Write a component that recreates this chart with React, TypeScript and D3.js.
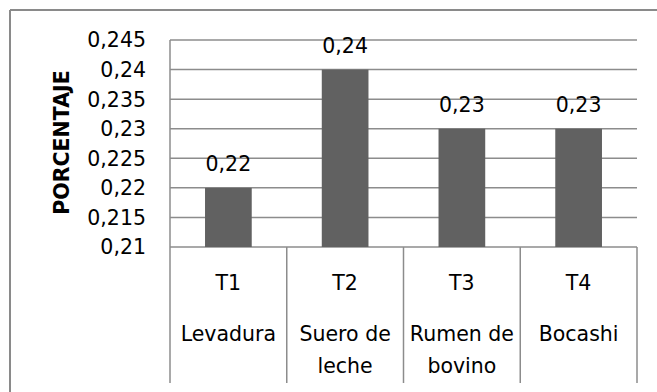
import React from "react";
import * as d3 from "d3";

const codes = ["T1", "T2", "T3", "T4"];
const nameLines = [["Levadura"], ["Suero de", "leche"], ["Rumen de", "bovino"], ["Bocashi"]];
const values = [0.22, 0.24, 0.23, 0.23];
const yTicks = [0.21, 0.215, 0.22, 0.225, 0.23, 0.235, 0.24, 0.245];
const yTitle = "PORCENTAJE";

const W = 657;
const H = 392;
const FONT = "'DejaVu Sans', sans-serif";
const FS = 20.5;

export default function App() {
  const left = 170, right = 637, top = 40, bottom = 247;
  const x = d3.scaleBand<string>().domain(codes).range([left, right]).padding(0);
  const y = d3.scaleLinear().domain([0.21, 0.245]).range([bottom, top]);
  const bw = x.bandwidth();
  const barW = bw * 0.4;
  const fmt = (v: number) => String(+v.toFixed(3)).replace(".", ",");
  const sepBottom = 383;
  const gridColor = "#8c8c8c";

  return (
    <svg width={W} height={H} style={{ position: "absolute", left: 0, top: 0, background: "#fff" }}>
      <rect x={0} y={0} width={W} height={H} fill="#fff" />
      {/* outer border */}
      <line x1={10} x2={W} y1={10} y2={10} stroke="#8a8a8a" strokeWidth={2} />
      <line x1={10} x2={10} y1={10} y2={H} stroke="#8a8a8a" strokeWidth={2} />
      {/* gridlines */}
      {yTicks.map((t) => (
        <line key={t} x1={left} x2={right} y1={y(t)} y2={y(t)} stroke={gridColor} strokeWidth={1.5} />
      ))}
      {/* left axis line */}
      <line x1={left} x2={left} y1={top} y2={sepBottom} stroke={gridColor} strokeWidth={1.5} />
      {/* category separators */}
      {codes.map((c, i) => (
        <line key={c} x1={(x(c) as number) + bw} x2={(x(c) as number) + bw} y1={bottom} y2={sepBottom} stroke={gridColor} strokeWidth={1.5} />
      ))}
      {/* bars */}
      {codes.map((c, i) => {
        const cx = (x(c) as number) + bw / 2;
        return (
          <g key={c}>
            <rect x={cx - barW / 2} y={y(values[i])} width={barW} height={bottom - y(values[i])} fill="#616161" />
            <text x={cx} y={y(values[i]) - 17} textAnchor="middle" fontFamily={FONT} fontSize={FS} fill="#000">
              {fmt(values[i])}
            </text>
          </g>
        );
      })}
      {/* y tick labels */}
      {yTicks.map((t) => (
        <text key={t} x={146} y={y(t)} dy="0.36em" textAnchor="end" fontFamily={FONT} fontSize={FS} fill="#000">
          {fmt(t)}
        </text>
      ))}
      {/* category labels */}
      {codes.map((c, i) => {
        const cx = (x(c) as number) + bw / 2;
        return (
          <g key={c}>
            <text x={cx} y={283} dy="0.36em" textAnchor="middle" fontFamily={FONT} fontSize={FS} fill="#000">
              {c}
            </text>
            {nameLines[i].map((ln, j) => (
              <text key={j} x={cx} y={334 + j * 32} dy="0.36em" textAnchor="middle" fontFamily={FONT} fontSize={FS} fill="#000">
                {ln}
              </text>
            ))}
          </g>
        );
      })}
      {/* y title */}
      <text
        transform={`translate(62, ${(70 + 215) / 2}) rotate(-90)`}
        textAnchor="middle"
        dy="0.36em"
        fontFamily={FONT}
        fontSize={FS}
        fontWeight="bold"
        fill="#000"
      >
        {yTitle}
      </text>
    </svg>
  );
}
